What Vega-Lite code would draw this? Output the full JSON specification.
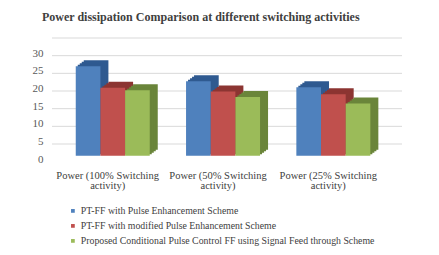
{
  "$schema": "https://vega.github.io/schema/vega-lite/v6.json",
  "width": 332,
  "height": 106,
  "autosize": {"type": "none"},
  "padding": {"left": 52, "top": 53, "right": 55, "bottom": 96},
  "background": "white",
  "title": {
    "text": "Power dissipation Comparison at different switching activities",
    "anchor": "start",
    "dx": 10,
    "offset": 14,
    "font": "Liberation Serif",
    "fontSize": 12,
    "fontWeight": "bold",
    "color": "#404040"
  },
  "datasets": {
    "bars": [
      {"cat": "Power (100% Switching activity)", "series": "PT-FF with Pulse Enhancement Scheme", "value": 25.3},
      {"cat": "Power (100% Switching activity)", "series": "PT-FF with modified Pulse Enhancement Scheme", "value": 19.2},
      {"cat": "Power (100% Switching activity)", "series": "Proposed Conditional Pulse Control FF using Signal Feed through Scheme", "value": 18.5},
      {"cat": "Power (50% Switching activity)", "series": "PT-FF with Pulse Enhancement Scheme", "value": 21.1},
      {"cat": "Power (50% Switching activity)", "series": "PT-FF with modified Pulse Enhancement Scheme", "value": 18.2},
      {"cat": "Power (50% Switching activity)", "series": "Proposed Conditional Pulse Control FF using Signal Feed through Scheme", "value": 16.6},
      {"cat": "Power (25% Switching activity)", "series": "PT-FF with Pulse Enhancement Scheme", "value": 19.4},
      {"cat": "Power (25% Switching activity)", "series": "PT-FF with modified Pulse Enhancement Scheme", "value": 17.4},
      {"cat": "Power (25% Switching activity)", "series": "Proposed Conditional Pulse Control FF using Signal Feed through Scheme", "value": 14.8}
    ],
    "grid": [{"v": 0}, {"v": 5}, {"v": 10}, {"v": 15}, {"v": 20}, {"v": 25}, {"v": 30}]
  },
  "encoding": {
    "x": {
      "field": "cat", "type": "nominal",
      "sort": ["Power (100% Switching activity)", "Power (50% Switching activity)", "Power (25% Switching activity)"],
      "scale": {"paddingInner": 0.33, "paddingOuter": 0.17},
      "axis": {
        "title": null, "labelAngle": 0, "domain": false, "ticks": false,
        "labelPadding": 11, "labelFont": "Liberation Serif", "labelFontSize": 10.5,
        "labelColor": "#404040", "labelLineHeight": 10,
        "labelExpr": "[replace(datum.label, ' activity)', ''), 'activity)']"
      }
    },
    "y": {
      "field": "value", "type": "quantitative",
      "scale": {"domain": [0, 30], "nice": false},
      "axis": {
        "title": null, "grid": false, "domain": false, "ticks": false,
        "values": [0, 5, 10, 15, 20, 25, 30], "labelPadding": 9,
        "labelFont": "Liberation Serif", "labelFontSize": 11, "labelColor": "#595959"
      }
    }
  },
  "layer": [
    {
      "data": {"name": "grid"},
      "mark": {"type": "rule", "color": "#d9d9d9", "strokeWidth": 1, "xOffset": 18, "yOffset": -15},
      "encoding": {"x": null, "y": {"field": "v", "type": "quantitative"}}
    },
    {
      "data": {"name": "bars"},
      "mark": {"type": "bar", "yOffset": -9.3},
      "encoding": {
        "xOffset": {"field": "series", "type": "nominal", "sort": null, "scale": {"range": [13, 87]}},
        "color": {
          "field": "series", "type": "nominal", "legend": null,
          "scale": {"domain": ["PT-FF with Pulse Enhancement Scheme", "PT-FF with modified Pulse Enhancement Scheme", "Proposed Conditional Pulse Control FF using Signal Feed through Scheme"], "range": ["#2f5a90", "#8c3532", "#6a853a"]}
        }
      }
    },
    {
      "data": {"name": "bars"},
      "mark": {"type": "bar", "yOffset": -7.8},
      "encoding": {
        "xOffset": {"field": "series", "type": "nominal", "sort": null, "scale": {"range": [11, 85]}},
        "color": {
          "field": "series", "type": "nominal", "legend": null,
          "scale": {"domain": ["PT-FF with Pulse Enhancement Scheme", "PT-FF with modified Pulse Enhancement Scheme", "Proposed Conditional Pulse Control FF using Signal Feed through Scheme"], "range": ["#2f5a90", "#8c3532", "#6a853a"]}
        }
      }
    },
    {
      "data": {"name": "bars"},
      "mark": {"type": "bar", "yOffset": -6.3},
      "encoding": {
        "xOffset": {"field": "series", "type": "nominal", "sort": null, "scale": {"range": [9, 83]}},
        "color": {
          "field": "series", "type": "nominal", "legend": null,
          "scale": {"domain": ["PT-FF with Pulse Enhancement Scheme", "PT-FF with modified Pulse Enhancement Scheme", "Proposed Conditional Pulse Control FF using Signal Feed through Scheme"], "range": ["#2f5a90", "#8c3532", "#6a853a"]}
        }
      }
    },
    {
      "data": {"name": "bars"},
      "mark": {"type": "bar", "yOffset": -4.8},
      "encoding": {
        "xOffset": {"field": "series", "type": "nominal", "sort": null, "scale": {"range": [7, 81]}},
        "color": {
          "field": "series", "type": "nominal", "legend": null,
          "scale": {"domain": ["PT-FF with Pulse Enhancement Scheme", "PT-FF with modified Pulse Enhancement Scheme", "Proposed Conditional Pulse Control FF using Signal Feed through Scheme"], "range": ["#2f5a90", "#8c3532", "#6a853a"]}
        }
      }
    },
    {
      "data": {"name": "bars"},
      "mark": {"type": "bar", "yOffset": -3.3},
      "encoding": {
        "xOffset": {"field": "series", "type": "nominal", "sort": null, "scale": {"range": [5, 79]}},
        "color": {
          "field": "series", "type": "nominal",
          "scale": {"domain": ["PT-FF with Pulse Enhancement Scheme", "PT-FF with modified Pulse Enhancement Scheme", "Proposed Conditional Pulse Control FF using Signal Feed through Scheme"], "range": ["#4f81bd", "#c0504d", "#9bbb59"]},
          "legend": {
            "title": null, "orient": "none", "legendX": 16, "legendY": 153,
            "direction": "vertical", "symbolType": "square", "symbolSize": 14,
            "labelFont": "Liberation Serif", "labelFontSize": 9.8, "labelColor": "#404040",
            "rowPadding": 4, "labelOffset": 3, "labelLimit": 400
          }
        }
      }
    }
  ],
  "resolve": {"scale": {"xOffset": "independent", "color": "independent"}},
  "config": {"view": {"stroke": null}}
}
